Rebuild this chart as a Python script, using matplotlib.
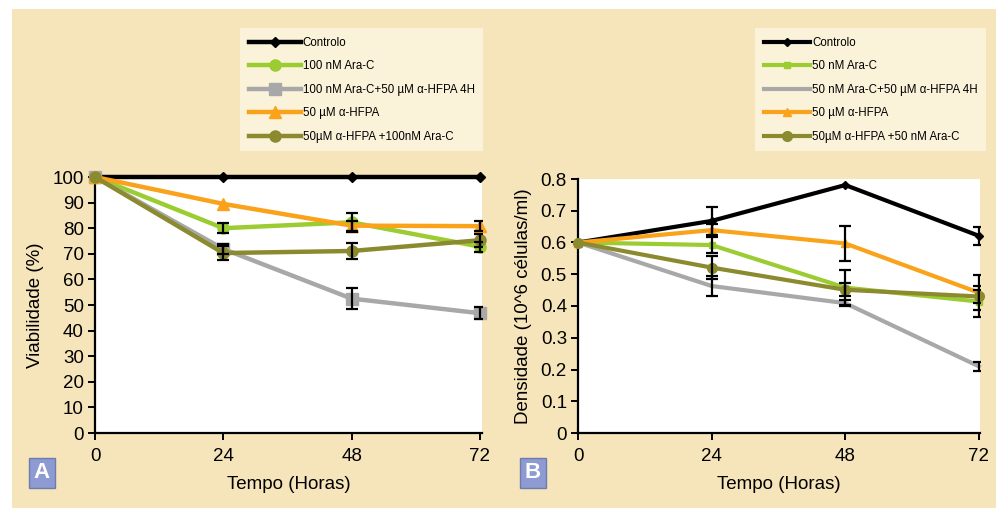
import numpy as np
import matplotlib.pyplot as plt
from matplotlib.patches import Rectangle

plt.rcParams['font.family'] = ['Liberation Sans', 'DejaVu Sans']

# Dados
horas = [0, 24, 48, 72]

# Painel A - viabilidade (%)
via_labels = ["Controlo", "100 nM Ara-C", "100 nM Ara-C+50 µM α-HFPA 4H",
              "50 µM α-HFPA", "50µM α-HFPA +100nM Ara-C"]
via_controlo = [100, 100, 100, 100]
via_arac = [100, 80, 82.3, 72.8]
via_arac_hfpa = [100, 71.9, 52.5, 46.8]
via_hfpa = [100, 89.5, 81, 80.8]
via_hfpa_arac = [100, 70.3, 71.1, 75.3]
via_err_controlo = [0, 0, 0, 0]
via_err_arac = [0, 2, 3.8, 2]
via_err_arac_hfpa = [0, 2, 4.2, 2.3]
via_err_hfpa = [0, 0, 2, 2]
via_err_hfpa_arac = [0, 2.7, 3.2, 2.5]

# Painel B - densidade (10^6 células/ml)
den_labels = ["Controlo", "50 nM Ara-C", "50 nM Ara-C+50 µM α-HFPA 4H",
              "50 µM α-HFPA", "50µM α-HFPA +50 nM Ara-C"]
den_controlo = [0.6, 0.668, 0.781, 0.621]
den_arac = [0.6, 0.592, 0.458, 0.414]
den_arac_hfpa = [0.6, 0.463, 0.409, 0.21]
den_hfpa = [0.6, 0.639, 0.597, 0.442]
den_hfpa_arac = [0.6, 0.521, 0.451, 0.43]
den_err_controlo = [0, 0.043, 0, 0.028]
den_err_arac = [0, 0.025, 0.055, 0.05]
den_err_arac_hfpa = [0, 0.03, 0.01, 0.015]
den_err_hfpa = [0, 0.02, 0.055, 0.056]
den_err_hfpa_arac = [0, 0.035, 0.02, 0.02]

# Cores
C_BLACK = "#000000"
C_GREEN = "#9BCC32"
C_GREY = "#A8A8A8"
C_ORANGE = "#F9A21A"
C_OLIVE = "#8C8A2E"
BG = "#F6E5BA"
LEG_BG = "#FBF2DA"

W, H = 996, 508
fig = plt.figure(figsize=(W / 100, H / 100), dpi=100, facecolor="white")
fig.patches.append(Rectangle((12 / W, 0), 1 - 12 / W, 1 - 9 / H,
                             transform=fig.transFigure, facecolor=BG,
                             edgecolor="none", zorder=-10))


def fpos(x0, y0, x1, y1):
    return [x0 / W, 1 - y1 / H, (x1 - x0) / W, (y1 - y0) / H]


def style_axes(ax):
    ax.set_facecolor("white")
    for s in ["top", "right"]:
        ax.spines[s].set_visible(False)
    for s in ["left", "bottom"]:
        ax.spines[s].set_linewidth(1.6)
    ax.tick_params(axis="both", direction="out", length=5, width=1.4,
                   labelsize=13.5)
    ax.tick_params(axis="x", pad=6)
    ax.tick_params(axis="y", pad=3)
    ax.set_xticks(horas)


def draw(ax, series, lw):
    for y, err, col, mk, msz, lab in series:
        ax.plot(horas, y, color=col, lw=lw, marker=mk, ms=msz,
                label=lab, zorder=3, clip_on=False)
        e = np.array(err)
        idx = e > 0
        ax.errorbar(np.array(horas)[idx], np.array(y)[idx], yerr=e[idx],
                    fmt="none", ecolor="black", elinewidth=1.6,
                    capsize=4.5, capthick=1.6, zorder=4)


# Painel A
axA = fig.add_axes(fpos(95, 177, 482, 433))
style_axes(axA)
draw(axA, [
    (via_controlo, via_err_controlo, C_BLACK, "D", 5, via_labels[0]),
    (via_arac, via_err_arac, C_GREEN, "o", 8, via_labels[1]),
    (via_arac_hfpa, via_err_arac_hfpa, C_GREY, "s", 8, via_labels[2]),
    (via_hfpa, via_err_hfpa, C_ORANGE, "^", 9, via_labels[3]),
    (via_hfpa_arac, via_err_hfpa_arac, C_OLIVE, "o", 8, via_labels[4]),
], lw=3.2)
axA.set_xlim(0, 72.4)
axA.set_ylim(0, 100)
axA.set_yticks(range(0, 101, 10))
axA.set_xlabel("Tempo (Horas)", fontsize=13.5, labelpad=8)
axA.set_ylabel("Viabilidade (%)", fontsize=13.5, labelpad=6)

# Painel B
axB = fig.add_axes(fpos(578, 179, 980, 433))
style_axes(axB)
draw(axB, [
    (den_controlo, den_err_controlo, C_BLACK, "D", 4, den_labels[0]),
    (den_arac, den_err_arac, C_GREEN, "s", 5, den_labels[1]),
    (den_arac_hfpa, den_err_arac_hfpa, C_GREY, ".", 2, den_labels[2]),
    (den_hfpa, den_err_hfpa, C_ORANGE, "^", 6, den_labels[3]),
    (den_hfpa_arac, den_err_hfpa_arac, C_OLIVE, "o", 7, den_labels[4]),
], lw=3)
axB.set_xlim(0, 72.2)
axB.set_ylim(0, 0.8)
axB.set_yticks(np.arange(0, 0.81, 0.1))
axB.set_yticklabels(["0", "0.1", "0.2", "0.3", "0.4", "0.5", "0.6", "0.7", "0.8"])
axB.set_xlabel("Tempo (Horas)", fontsize=13.5, labelpad=8)
axB.set_ylabel("Densidade (10^6 células/ml)", fontsize=13.5, labelpad=6)

# Legendas
for ax, x0, hl in [(axA, 240, 4.5), (axB, 755, 4.0)]:
    leg = ax.legend(loc="upper left", bbox_to_anchor=(x0 / W, 1 - 28 / H),
                    bbox_transform=fig.transFigure, fontsize=8.3,
                    handlelength=hl, handletextpad=0.2, labelspacing=1.0,
                    borderpad=0.75, borderaxespad=0, frameon=True,
                    fancybox=False)
    fr = leg.get_frame()
    fr.set_facecolor(LEG_BG)
    fr.set_edgecolor("none")
    fr.set_alpha(1)

# Rótulos dos painéis
for letter, x0 in [("A", 28), ("B", 519)]:
    fig.text((x0 + 14) / W, 1 - 473 / H, letter, color="white", fontsize=16,
             fontweight="bold", ha="center", va="center",
             bbox=dict(boxstyle="square,pad=0.2", facecolor="#8E9BD2",
                       edgecolor="#6F7AAE", linewidth=1))

fig.savefig("out.png", dpi=100, facecolor=fig.get_facecolor())
